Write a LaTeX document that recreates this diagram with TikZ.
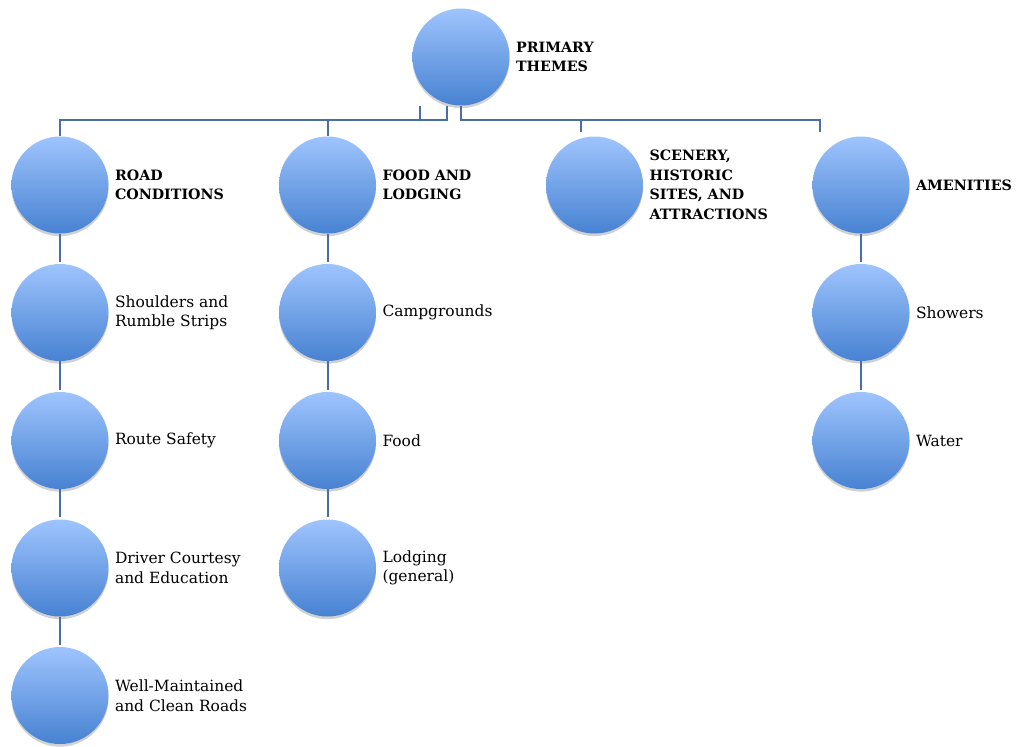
\documentclass[tikz,border=0pt]{standalone}
\usepackage{fontspec}
\setmainfont{DejaVu Serif}
\usetikzlibrary{positioning,shadows}
\definecolor{ctop}{HTML}{9EC4FD}
\definecolor{cbot}{HTML}{4782D2}
\definecolor{lineblue}{HTML}{4A6FA5}
\begin{document}
\begin{tikzpicture}[x=0.75pt,y=-0.75pt,
  bubble/.style={circle, minimum size=72.75pt, inner sep=0pt, top color=ctop, bottom color=cbot, draw=none,
    drop shadow={shadow xshift=0pt, shadow yshift=-2pt, opacity=0.18, fill=black}},
  lbl/.style={right=4.5pt of #1, align=left, inner sep=0pt, font=\fontsize{11.6}{14.6}\selectfont},
  blbl/.style={lbl=#1, font=\fontsize{10.7}{14.6}\selectfont\bfseries},
  conn/.style={draw=lineblue, line width=1.5pt},
  vconn/.style={conn, shorten >=1.5pt}]
\fill[white] (0,0) rectangle (1016,746);
\useasboundingbox (0,0) rectangle (1016,746);
% nodes
\node[bubble] (root) at (461,57) {};
\node[bubble] (road) at (60,185) {};
\node[bubble] (food) at (327.5,185) {};
\node[bubble] (scen) at (594.5,185) {};
\node[bubble] (amen) at (861,185) {};
\node[bubble] (shou) at (60,312.5) {};
\node[bubble] (rout) at (60,440.5) {};
\node[bubble] (driv) at (60,568) {};
\node[bubble] (well) at (60,695.5) {};
\node[bubble] (camp) at (327.5,312.5) {};
\node[bubble] (fd) at (327.5,440.5) {};
\node[bubble] (lodg) at (327.5,568) {};
\node[bubble] (show) at (861,312.5) {};
\node[bubble] (watr) at (861,440.5) {};
% labels
\node[blbl=root] (troot) {PRIMARY\\THEMES};
\node[blbl=road] (troad) {ROAD\\CONDITIONS};
\node[blbl=food] (tfood) {FOOD AND\\LODGING};
\node[blbl=scen] (tscen) {SCENERY,\\HISTORIC\\SITES, AND\\ATTRACTIONS};
\node[blbl=amen] (tamen) {AMENITIES};
\node[lbl=shou] (tshou) {Shoulders and\\Rumble Strips};
\node[lbl=rout] (trout) {Route Safety};
\node[lbl=driv] (tdriv) {Driver Courtesy\\and Education};
\node[lbl=well] (twell) {Well-Maintained\\and Clean Roads};
\node[lbl=camp] (tcamp) {Campgrounds};
\node[lbl=fd] (tfd) {Food};
\node[lbl=lodg] (tlodg) {Lodging\\(general)};
\node[lbl=show] (tshow) {Showers};
\node[lbl=watr] (twatr) {Water};
% connectors
\coordinate (busy) at (0,120);
\coordinate (busA) at (447,120);
\coordinate (busB) at (420,120);
\coordinate (scTop) at (581,132);
\coordinate (amTop) at (820,132);
\draw[conn] (root.south -| busA) -- (busA) -| (road.north);
\draw[conn] (root.south -| busB) -- (busB) -| (food.north);
\draw[conn] (root.south) -- (root.south |- busy) -| (amTop);
\draw[conn] (root.south |- busy) -| (scTop);
\draw[vconn] (road) -- (shou);
\draw[vconn] (shou) -- (rout);
\draw[vconn] (rout) -- (driv);
\draw[vconn] (driv) -- (well);
\draw[vconn] (food) -- (camp);
\draw[vconn] (camp) -- (fd);
\draw[vconn] (fd) -- (lodg);
\draw[vconn] (amen) -- (show);
\draw[vconn] (show) -- (watr);
\end{tikzpicture}
\end{document}
